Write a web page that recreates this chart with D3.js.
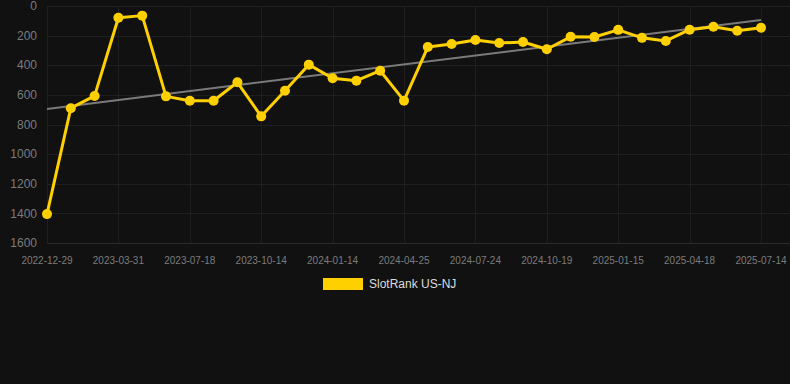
<!DOCTYPE html>
<html>
<head>
<meta charset="utf-8">
<script src="https://cdn.jsdelivr.net/npm/d3@7"></script>
<style>
  html, body { margin: 0; padding: 0; background: #111111; }
  #graf { width: 790px; height: 384px; }
</style>
</head>
<body>
<div id="graf"></div>
<script>
// datos
fechas = ['2022-12-29', '2023-01-29', '2023-02-28', '2023-03-31', '2023-05-05', '2023-06-12',
          '2023-07-18', '2023-08-17', '2023-09-15', '2023-10-14', '2023-11-14', '2023-12-14',
          '2024-01-14', '2024-02-19', '2024-03-22', '2024-04-25', '2024-05-25', '2024-06-24',
          '2024-07-24', '2024-08-22', '2024-09-20', '2024-10-19', '2024-11-18', '2024-12-17',
          '2025-01-15', '2025-02-15', '2025-03-18', '2025-04-18', '2025-05-17', '2025-06-15',
          '2025-07-14']
rank = [1405, 690, 607, 79, 65, 610, 640, 640, 515, 745, 572, 396, 488, 504, 437, 639,
        277, 257, 230, 250, 243, 292, 208, 209, 161, 215, 236, 160, 140, 167, 147]
yTicks = [0, 200, 400, 600, 800, 1000, 1200, 1400, 1600]
serie = 'SlotRank US-NJ'

ancho_total = 790
alto_total = 384

svg = d3.select('#graf').append('svg')
        .attr('width', ancho_total)
        .attr('height', alto_total)

svg.append('rect')
  .attr('width', ancho_total)
  .attr('height', alto_total)
  .attr('fill', '#111111')

// escaladores
x = d3.scalePoint().domain(fechas).range([47, 761])
y = d3.scaleLinear().domain([0, 1600]).range([6, 243])

datos = fechas.map((f, i) => ({ fecha: f, valor: rank[i] }))

// grid horizontal
svg.append('g')
  .selectAll('line')
  .data(yTicks)
  .join('line')
    .attr('x1', 47)
    .attr('x2', 790)
    .attr('y1', d => Math.round(y(d)) + 0.5)
    .attr('y2', d => Math.round(y(d)) + 0.5)
    .attr('stroke', d => d == 1600 ? '#2b2b2b' : '#1f1f1f')
    .attr('stroke-width', 1)

// grid vertical, una linea cada 3 fechas
etiquetas = fechas.filter((f, i) => i % 3 == 0)
svg.append('g')
  .selectAll('line')
  .data(etiquetas)
  .join('line')
    .attr('x1', d => Math.round(x(d)) + 0.5)
    .attr('x2', d => Math.round(x(d)) + 0.5)
    .attr('y1', 6)
    .attr('y2', 243)
    .attr('stroke', '#1f1f1f')

// ejes
svg.append('g')
  .selectAll('text')
  .data(yTicks)
  .join('text')
    .attr('x', 37)
    .attr('y', d => y(d))
    .attr('dy', '0.35em')
    .attr('text-anchor', 'end')
    .attr('font-family', 'Liberation Sans, Arial, sans-serif')
    .attr('font-size', '12px')
    .attr('fill', '#7c7c7c')
    .text(d => d)

svg.append('g')
  .selectAll('text')
  .data(etiquetas)
  .join('text')
    .attr('x', d => x(d))
    .attr('y', 260)
    .attr('dy', '0.35em')
    .attr('text-anchor', 'middle')
    .attr('font-family', 'Liberation Sans, Arial, sans-serif')
    .attr('font-size', '10px')
    .attr('fill', '#7c7c7c')
    .text(d => d)

// linea de tendencia (regresion lineal)
n = rank.length
mx = d3.mean(d3.range(n))
my = d3.mean(rank)
pend = d3.sum(rank, (v, i) => (i - mx) * (v - my)) / d3.sum(d3.range(n), i => (i - mx) * (i - mx))
tend = [0, n - 1].map(i => ({ fecha: fechas[i], valor: my + pend * (i - mx) }))

linea = d3.line()
          .x(d => x(d.fecha))
          .y(d => y(d.valor))

svg.append('path')
  .datum(tend)
  .attr('d', linea)
  .attr('fill', 'none')
  .attr('stroke', '#7a7a7a')
  .attr('stroke-width', 2)

// serie
svg.append('path')
  .datum(datos)
  .attr('d', linea)
  .attr('fill', 'none')
  .attr('stroke', '#ffd000')
  .attr('stroke-width', 3)
  .attr('stroke-linejoin', 'round')

svg.append('g')
  .selectAll('circle')
  .data(datos)
  .join('circle')
    .attr('cx', d => x(d.fecha))
    .attr('cy', d => y(d.valor))
    .attr('r', 5)
    .attr('fill', '#ffd000')

// leyenda
svg.append('rect')
  .attr('x', 323)
  .attr('y', 278)
  .attr('width', 40)
  .attr('height', 12)
  .attr('fill', '#ffd000')

svg.append('text')
  .attr('x', 369)
  .attr('y', 284)
  .attr('dy', '0.35em')
  .attr('font-family', 'Liberation Sans, Arial, sans-serif')
  .attr('font-size', '12px')
  .attr('fill', '#dddddd')
  .text(serie)
</script>
</body>
</html>
